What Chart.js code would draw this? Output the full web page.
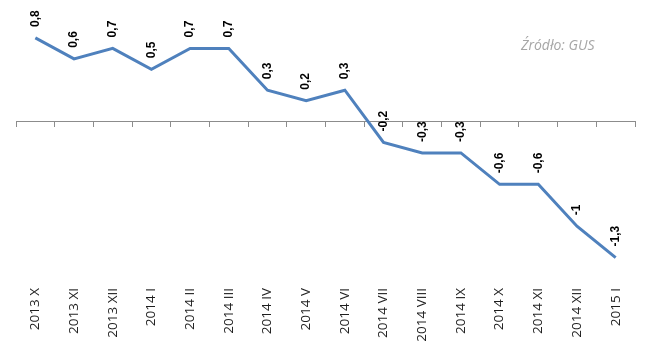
<!DOCTYPE html>
<html>
<head>
<meta charset="utf-8">
<script src="https://cdn.jsdelivr.net/npm/chart.js@4/dist/chart.umd.min.js"></script>
<style>
  html, body { margin: 0; padding: 0; background: #fff; }
  #wrap { position: relative; width: 652px; height: 353px; }
</style>
</head>
<body>
<div id="wrap"><canvas id="inflChart"></canvas></div>
<script>
// months on the x axis
const months = ['2013 X', '2013 XI', '2013 XII', '2014 I', '2014 II', '2014 III', '2014 IV', '2014 V',
                '2014 VI', '2014 VII', '2014 VIII', '2014 IX', '2014 X', '2014 XI', '2014 XII', '2015 I'];
// values
const cpiChange = [0.8, 0.6, 0.7, 0.5, 0.7, 0.7, 0.3, 0.2, 0.3, -0.2, -0.3, -0.3, -0.6, -0.6, -1, -1.3];
const sourceNote = 'Źródło: GUS';

// rotated value labels above each point
const valueLabels = {
    id: 'valueLabels',
    afterDatasetsDraw(chart) {
        const ctx = chart.ctx;
        const meta = chart.getDatasetMeta(0);
        ctx.save();
        ctx.font = 'bold 12px "Liberation Sans", Arial, sans-serif';
        ctx.fillStyle = '#000';
        ctx.textAlign = 'left';
        ctx.textBaseline = 'middle';
        meta.data.forEach((pt, i) => {
            const txt = String(cpiChange[i]).replace('.', ',');
            ctx.save();
            ctx.translate(pt.x, pt.y - 11);
            ctx.rotate(-Math.PI / 2);
            ctx.fillText(txt, 0, 0);
            ctx.restore();
        });
        ctx.restore();
    }
};

// month labels, read bottom-to-top, top ends lined up under the plot
const monthLabels = {
    id: 'monthLabels',
    afterDraw(chart) {
        const ctx = chart.ctx;
        const xs = chart.scales.x;
        const top = chart.chartArea.bottom + 20;
        ctx.save();
        ctx.font = '13.5px "Open Sans", sans-serif';
        ctx.fillStyle = '#1e1e1e';
        ctx.textAlign = 'right';
        ctx.textBaseline = 'middle';
        months.forEach((m, i) => {
            ctx.save();
            ctx.translate(xs.getPixelForTick(i), top);
            ctx.rotate(-Math.PI / 2);
            ctx.fillText(m, 0, 0);
            ctx.restore();
        });
        ctx.restore();
    }
};

// "Źródło: GUS" in the corner
const sourceText = {
    id: 'sourceText',
    afterDraw(chart) {
        const ctx = chart.ctx;
        ctx.save();
        ctx.font = 'italic 14px "Open Sans", sans-serif';
        ctx.fillStyle = '#a6a6a6';
        ctx.textAlign = 'left';
        ctx.textBaseline = 'alphabetic';
        ctx.fillText(sourceNote, 521, 50);
        ctx.restore();
    }
};

new Chart(document.getElementById('inflChart'), {
    type: 'line',
    data: {
        labels: months,
        datasets: [{
            data: cpiChange,
            borderColor: 'rgb(79, 129, 189)',
            borderWidth: 3,
            pointRadius: 0,
            tension: 0,
            fill: false
        }]
    },
    options: {
        responsive: true,
        maintainAspectRatio: false,
        animation: false,
        layout: { padding: { left: 16, right: 17, top: 17, bottom: 0 } },
        scales: {
            x: {
                type: 'category',
                offset: true,
                grid: { display: false },
                border: { display: false },
                ticks: { display: false },
                afterFit: s => { s.height = 85; }
            },
            xZero: {
                type: 'category',
                position: { y: 0 },
                offset: true,
                grid: { offset: true, drawOnChartArea: false, drawTicks: true, tickLength: 5, color: '#8c8c8c' },
                border: { display: true, color: '#8c8c8c', width: 1 },
                ticks: { display: false }
            },
            y: {
                display: false,
                min: -1.4,
                max: 1.0
            }
        },
        plugins: {
            legend: { display: false },
            tooltip: { enabled: false }
        }
    },
    plugins: [valueLabels, monthLabels, sourceText]
});
</script>
</body>
</html>
